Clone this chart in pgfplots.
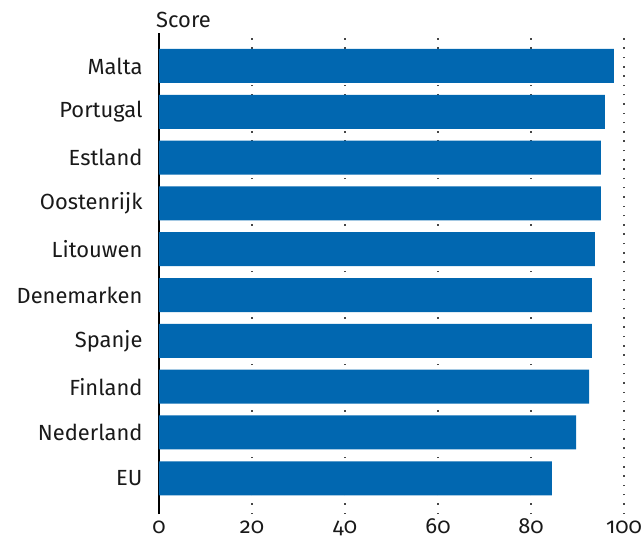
\documentclass[border=0pt]{standalone}
\usepackage{fontspec}
\setmainfont{Fira Sans}[Numbers=OldStyle]
\usepackage{pgfplots}
\pgfplotsset{compat=1.18}
\definecolor{barblue}{RGB}{1,103,176}
\definecolor{griddot}{RGB}{70,70,70}
\begin{document}
\begin{tikzpicture}
\begin{axis}[
  scale only axis,
  width=465bp, height=481bp,
  xmin=0, xmax=100,
  ymin=-0.78, ymax=9.72,
  xtick={0,20,40,60,80,100},
  ytick={0,1,2,3,4,5,6,7,8,9},
  yticklabels={EU,Nederland,Finland,Spanje,Denemarken,Litouwen,Oostenrijk,Estland,Portugal,Malta},
  major tick length=0pt,
  /pgf/number format/assume math mode=true,
  tick label style={font=\fontsize{22}{26}\selectfont, text=black!90},
  yticklabel style={xshift=-13bp},
  xticklabel style={text height=16bp, text depth=5bp},
  xmajorgrids=true,
  grid style={griddot, line width=1.5bp, dash pattern=on 1.5bp off 7.8bp},
  axis lines=left,
  axis line style={-},
  x axis line style={draw=none},
  y axis line style={black, line width=2.2bp},
  xbar, bar width=34bp,
  clip=false,
]
\addplot[fill=barblue, draw=none] coordinates {
  (84.5,0) (89.7,1) (92.5,2) (93.1,3) (93.1,4) (93.75,5) (95.0,6) (95.0,7) (95.9,8) (97.8,9)
};
\node[anchor=base west, inner sep=0pt, font=\fontsize{22}{26}\selectfont, text=black!90] at ([xshift=-3bp, yshift=6bp]rel axis cs:0,1) {Score};
\coordinate (bl) at (rel axis cs:0,0);
\end{axis}
\pgfresetboundingbox
\path ([shift={(-159bp,-29bp)}]bl) rectangle ([shift={(482bp,514bp)}]bl);
\end{tikzpicture}
\end{document}
